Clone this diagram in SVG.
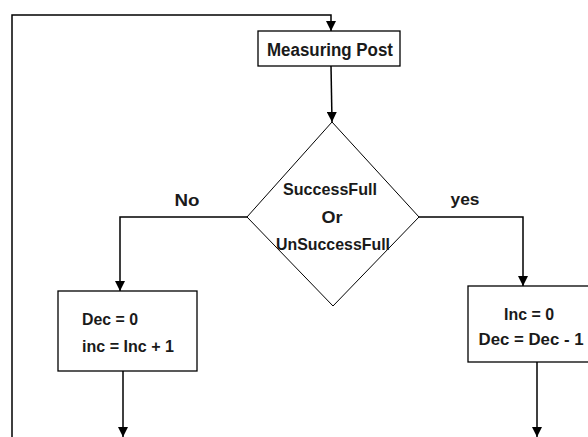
<svg xmlns="http://www.w3.org/2000/svg" width="588" height="437" viewBox="0 0 588 437">
<style>
  .box { fill: #ffffff; stroke: #000000; stroke-width: 1.3; }
  .dia { fill: #ffffff; stroke: #000000; stroke-width: 1; }
  .ln { fill: none; stroke: #000000; stroke-width: 1.5; }
  .t { font-family: "Liberation Sans", Arial, sans-serif; font-weight: bold; fill: #1a1a1a; }
</style>
<defs>
  <marker id="ah" viewBox="0 0 10 10" refX="10" refY="5" markerWidth="10" markerHeight="10" markerUnits="userSpaceOnUse" orient="auto">
    <path d="M0,0 L10,5 L0,10 z" fill="#000000"/>
  </marker>
</defs>
<rect width="588" height="437" fill="#ffffff"/>
<g id="connectors">
  <path class="ln" d="M12,437 L12,15 L331,15 L331,31" marker-end="url(#ah)"/>
  <path class="ln" d="M331,66 L332,122" marker-end="url(#ah)"/>
  <path class="ln" d="M247,217 L120,217 L120,291" marker-end="url(#ah)"/>
  <path class="ln" d="M419,217 L523,217 L523,286" marker-end="url(#ah)"/>
  <path class="ln" d="M123,371 L123,437" marker-end="url(#ah)"/>
  <path class="ln" d="M537,362 L537,437" marker-end="url(#ah)"/>
  <text class="t" x="187" y="206" font-size="17" text-anchor="middle" textLength="25" lengthAdjust="spacingAndGlyphs">No</text>
  <text class="t" x="465" y="205" font-size="17" text-anchor="middle" textLength="29" lengthAdjust="spacingAndGlyphs">yes</text>
</g>
<g id="measuring-post">
  <rect class="box" x="258" y="31" width="142" height="35"/>
  <text class="t" x="330" y="56" font-size="18" text-anchor="middle" textLength="126" lengthAdjust="spacingAndGlyphs">Measuring Post</text>
</g>
<g id="decision">
  <polygon class="dia" points="332,122 419,217 333,306 247,217"/>
  <text class="t" x="330" y="195" font-size="17" text-anchor="middle" textLength="94" lengthAdjust="spacingAndGlyphs">SuccessFull</text>
  <text class="t" x="332" y="223" font-size="17" text-anchor="middle" textLength="21" lengthAdjust="spacingAndGlyphs">Or</text>
  <text class="t" x="333" y="250" font-size="17" text-anchor="middle" textLength="114" lengthAdjust="spacingAndGlyphs">UnSuccessFull</text>
</g>
<g id="no-branch">
  <rect class="box" x="58" y="291" width="139" height="80"/>
  <text class="t" x="82" y="325" font-size="17" textLength="56" lengthAdjust="spacingAndGlyphs">Dec = 0</text>
  <text class="t" x="82" y="352" font-size="17" textLength="92" lengthAdjust="spacingAndGlyphs">inc = Inc + 1</text>
</g>
<g id="yes-branch">
  <rect class="box" x="468" y="286" width="130" height="76"/>
  <text class="t" x="529" y="320" font-size="17" text-anchor="middle" textLength="50" lengthAdjust="spacingAndGlyphs">Inc = 0</text>
  <text class="t" x="531" y="345" font-size="17" text-anchor="middle" textLength="105" lengthAdjust="spacingAndGlyphs">Dec = Dec - 1</text>
</g>
</svg>
